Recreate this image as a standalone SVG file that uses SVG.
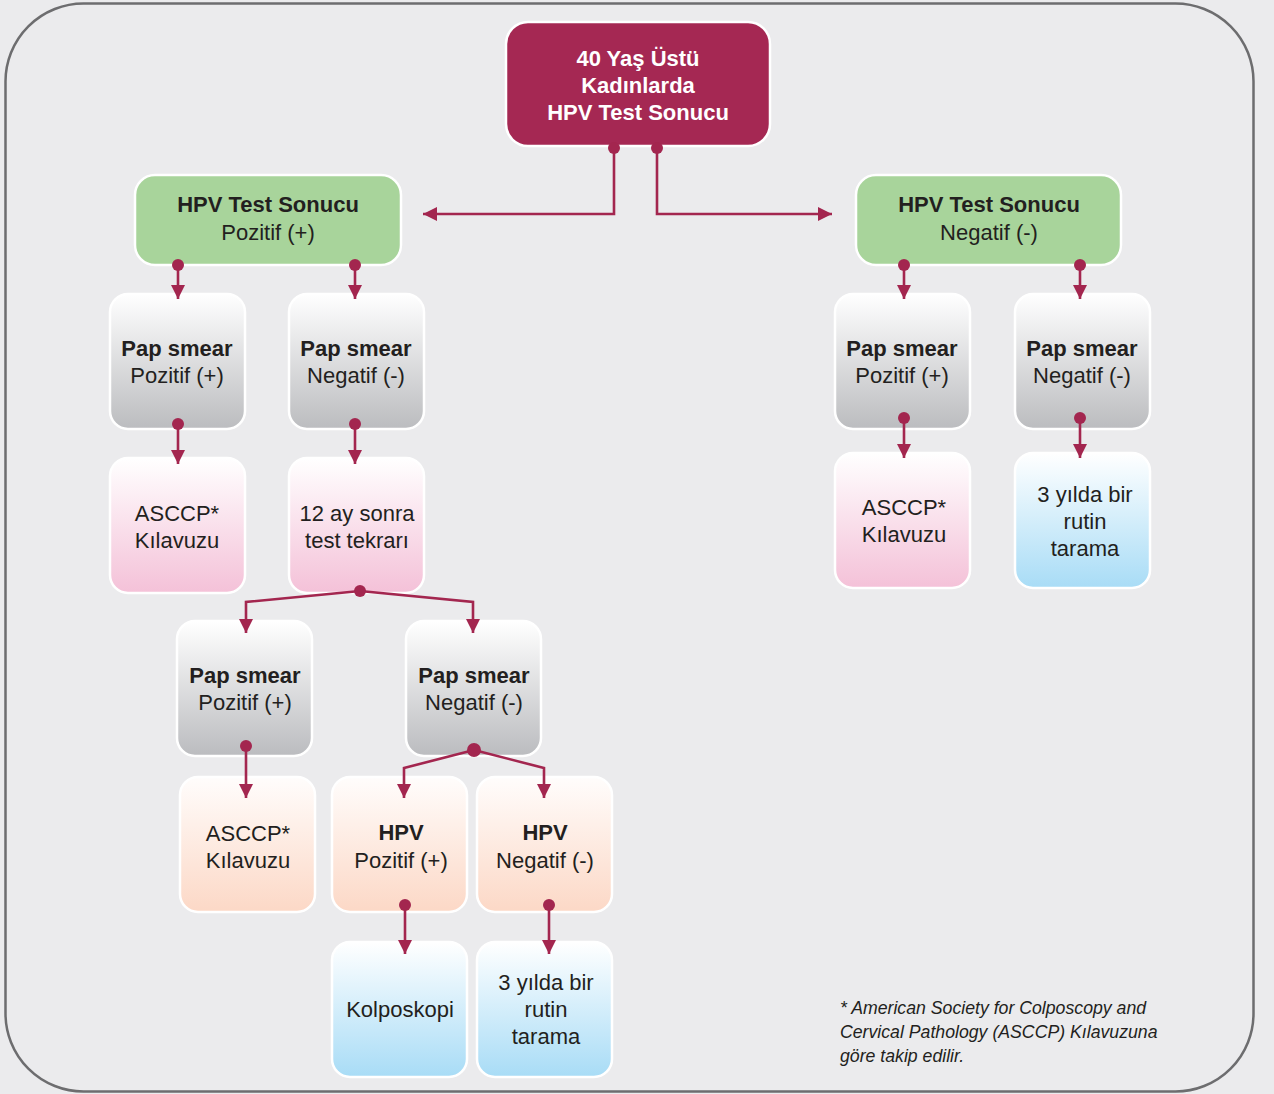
<svg xmlns="http://www.w3.org/2000/svg" width="1274" height="1094" viewBox="0 0 1274 1094">
<defs>
<linearGradient id="gGray" x1="0" y1="0" x2="0" y2="1"><stop offset="0" stop-color="#ffffff"/><stop offset="1" stop-color="#bbbcbf"/></linearGradient>
<linearGradient id="gPink" x1="0" y1="0" x2="0" y2="1"><stop offset="0" stop-color="#ffffff"/><stop offset="1" stop-color="#f4c1d8"/></linearGradient>
<linearGradient id="gPeach" x1="0" y1="0" x2="0" y2="1"><stop offset="0" stop-color="#fffdfc"/><stop offset="1" stop-color="#fcd8c6"/></linearGradient>
<linearGradient id="gBlue" x1="0" y1="0" x2="0" y2="1"><stop offset="0" stop-color="#ffffff"/><stop offset="1" stop-color="#a8dcf6"/></linearGradient>
<marker id="arr" viewBox="0 0 10 10" refX="10" refY="5" markerWidth="5.4" markerHeight="5.4" markerUnits="strokeWidth" orient="auto"><path d="M0,0 L10,5 L0,10 z" fill="#a3264f"/></marker>
</defs>
<style>
.box{stroke:#ffffff;stroke-width:2.5}
.t{font-family:"Liberation Sans",Arial,sans-serif;font-size:22px;fill:#231f20;text-anchor:middle}
.b{font-weight:bold}
.w{fill:#ffffff;font-weight:bold}
.c{fill:none;stroke:#a3264f;stroke-width:2.6;marker-end:url(#arr)}
.d{fill:#a3264f}
.fn{font-family:"Liberation Sans",Arial,sans-serif;font-size:17.7px;font-style:italic;fill:#231f20}
</style>
<rect x="0" y="0" width="1274" height="1094" fill="#ebebed"/>
<rect x="5.5" y="3.5" width="1248" height="1088" rx="78" fill="#ebebed" stroke="#6d6d6f" stroke-width="2.5"/>

<g id="n-top"><rect class="box" x="506" y="22" width="264" height="124" rx="22" fill="#a52853"/><text class="t w" x="638" y="66">40 Yaş Üstü</text><text class="t w" x="638" y="93">Kadınlarda</text><text class="t w" x="638" y="120">HPV Test Sonucu</text></g>

<g id="n-hpvpos"><rect class="box" x="135" y="175" width="266" height="90" rx="20" fill="#a8d49b"/><text class="t b" x="268" y="212">HPV Test Sonucu</text><text class="t" x="268" y="240">Pozitif (+)</text></g>
<g id="n-hpvneg"><rect class="box" x="856" y="175" width="265" height="90" rx="20" fill="#a8d49b"/><text class="t b" x="989" y="212">HPV Test Sonucu</text><text class="t" x="989" y="240">Negatif (-)</text></g>

<g id="n-p1"><rect class="box" x="110" y="294" width="135" height="135" rx="18" fill="url(#gGray)"/><text class="t b" x="177" y="356">Pap smear</text><text class="t" x="177" y="383">Pozitif (+)</text></g>
<g id="n-p2"><rect class="box" x="289" y="294" width="135" height="135" rx="18" fill="url(#gGray)"/><text class="t b" x="356" y="356">Pap smear</text><text class="t" x="356" y="383">Negatif (-)</text></g>
<g id="n-p3"><rect class="box" x="835" y="294" width="135" height="135" rx="18" fill="url(#gGray)"/><text class="t b" x="902" y="356">Pap smear</text><text class="t" x="902" y="383">Pozitif (+)</text></g>
<g id="n-p4"><rect class="box" x="1015" y="294" width="135" height="135" rx="18" fill="url(#gGray)"/><text class="t b" x="1082" y="356">Pap smear</text><text class="t" x="1082" y="383">Negatif (-)</text></g>

<g id="n-a1"><rect class="box" x="110" y="458" width="135" height="135" rx="18" fill="url(#gPink)"/><text class="t" x="177" y="521">ASCCP*</text><text class="t" x="177" y="548">Kılavuzu</text></g>
<g id="n-r12"><rect class="box" x="289" y="458" width="135" height="135" rx="18" fill="url(#gPink)"/><text class="t" x="357" y="521">12 ay sonra</text><text class="t" x="357" y="548">test tekrarı</text></g>
<g id="n-a3"><rect class="box" x="835" y="453" width="135" height="135" rx="18" fill="url(#gPink)"/><text class="t" x="904" y="515">ASCCP*</text><text class="t" x="904" y="542">Kılavuzu</text></g>
<g id="n-t4"><rect class="box" x="1015" y="453" width="135" height="135" rx="18" fill="url(#gBlue)"/><text class="t" x="1085" y="502">3 yılda bir</text><text class="t" x="1085" y="529">rutin</text><text class="t" x="1085" y="556">tarama</text></g>

<g id="n-p5"><rect class="box" x="177" y="621" width="135" height="135" rx="18" fill="url(#gGray)"/><text class="t b" x="245" y="683">Pap smear</text><text class="t" x="245" y="710">Pozitif (+)</text></g>
<g id="n-p6"><rect class="box" x="406" y="621" width="135" height="135" rx="18" fill="url(#gGray)"/><text class="t b" x="474" y="683">Pap smear</text><text class="t" x="474" y="710">Negatif (-)</text></g>

<g id="n-a5"><rect class="box" x="180" y="777" width="135" height="135" rx="18" fill="url(#gPeach)"/><text class="t" x="248" y="841">ASCCP*</text><text class="t" x="248" y="868">Kılavuzu</text></g>
<g id="n-h1"><rect class="box" x="332" y="777" width="135" height="135" rx="18" fill="url(#gPeach)"/><text class="t b" x="401" y="840">HPV</text><text class="t" x="401" y="868">Pozitif (+)</text></g>
<g id="n-h2"><rect class="box" x="477" y="777" width="135" height="135" rx="18" fill="url(#gPeach)"/><text class="t b" x="545" y="840">HPV</text><text class="t" x="545" y="868">Negatif (-)</text></g>

<g id="n-kol"><rect class="box" x="332" y="942" width="135" height="135" rx="18" fill="url(#gBlue)"/><text class="t" x="400" y="1017">Kolposkopi</text></g>
<g id="n-t6"><rect class="box" x="477" y="942" width="135" height="135" rx="18" fill="url(#gBlue)"/><text class="t" x="546" y="990">3 yılda bir</text><text class="t" x="546" y="1017">rutin</text><text class="t" x="546" y="1044">tarama</text></g>

<g id="connectors">
<path class="c" d="M614,148 V214 H423"/>
<path class="c" d="M657,148 V214 H832"/>
<path class="c" d="M178,265 V299"/>
<path class="c" d="M355,265 V299"/>
<path class="c" d="M904,265 V299"/>
<path class="c" d="M1080,265 V299"/>
<path class="c" d="M178,424 V464"/>
<path class="c" d="M355,424 V464"/>
<path class="c" d="M904,418 V458"/>
<path class="c" d="M1080,418 V458"/>
<path class="c" d="M360,591 L246,602 V633"/>
<path class="c" d="M360,591 L473,602 V633"/>
<path class="c" d="M246,746 V798"/>
<path class="c" d="M474,750 L404,768 V798"/>
<path class="c" d="M474,750 L544,768 V798"/>
<path class="c" d="M405,905 V954"/>
<path class="c" d="M549,905 V954"/>
<circle class="d" cx="614" cy="148" r="6"/><circle class="d" cx="657" cy="148" r="6"/>
<circle class="d" cx="178" cy="265" r="6"/><circle class="d" cx="355" cy="265" r="6"/>
<circle class="d" cx="904" cy="265" r="6"/><circle class="d" cx="1080" cy="265" r="6"/>
<circle class="d" cx="178" cy="424" r="6"/><circle class="d" cx="355" cy="424" r="6"/>
<circle class="d" cx="904" cy="418" r="6"/><circle class="d" cx="1080" cy="418" r="6"/>
<circle class="d" cx="360" cy="591" r="6"/><circle class="d" cx="246" cy="746" r="6"/>
<circle class="d" cx="474" cy="750" r="7"/>
<circle class="d" cx="405" cy="905" r="6"/><circle class="d" cx="549" cy="905" r="6"/>
</g>

<text class="fn" x="840" y="1014">* American Society for Colposcopy and</text>
<text class="fn" x="840" y="1038">Cervical Pathology (ASCCP) Kılavuzuna</text>
<text class="fn" x="840" y="1062">göre takip edilir.</text>
</svg>
